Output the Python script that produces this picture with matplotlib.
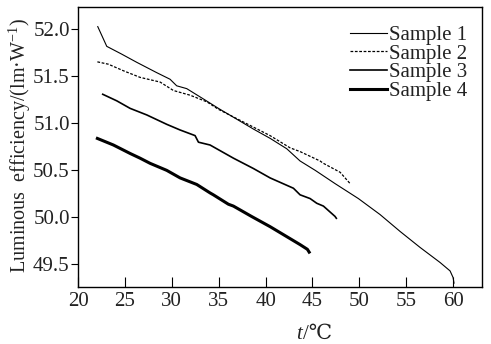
import matplotlib
matplotlib.use('Agg')
import matplotlib.pyplot as plt

# Values
t1 = [22.10, 23.06, 24.6, 26.26, 28.39, 29.81, 30.52, 31.59, 33.37, 34.97, 38.70,
      40.5, 42.26, 43.68, 45.3, 47.4, 49.9, 52.21, 54.35, 56.48, 58.61, 59.68, 60.0, 60.1]
e1 = [52.03, 51.82, 51.74, 51.65, 51.54, 51.47, 51.40, 51.37, 51.26, 51.16, 50.94,
      50.84, 50.73, 50.60, 50.50, 50.36, 50.20, 50.03, 49.85, 49.68, 49.52, 49.43, 49.36, 49.30]

t2 = [22.06, 23.23, 24.84, 26.61, 28.75, 30.17, 31.95, 33.73, 34.97, 37.63,
      40.48, 42.61, 43.68, 45.81, 46.17, 47.95, 49.01]
e2 = [51.655, 51.63, 51.56, 51.49, 51.44, 51.35, 51.30, 51.23, 51.15, 51.015,
      50.87, 50.74, 50.70, 50.60, 50.575, 50.48, 50.36]

t3 = [22.63, 24.13, 25.55, 27.33, 29.46, 30.88, 32.48, 32.84, 34.08, 34.79, 36.57,
      38.70, 40.48, 42.97, 43.68, 44.75, 45.46, 46.17, 47.41, 47.55]
e3 = [51.31, 51.24, 51.16, 51.09, 50.99, 50.93, 50.87, 50.80, 50.77, 50.73, 50.63,
      50.52, 50.42, 50.31, 50.24, 50.20, 50.15, 50.12, 50.01, 49.99]

t4 = [22.06, 23.77, 25.55, 26.61, 27.68, 29.46, 30.88, 32.66, 34.08, 34.43, 36.03,
      36.57, 38.5, 40.5, 43.68, 44.46, 44.65]
e4 = [50.84, 50.77, 50.68, 50.63, 50.575, 50.50, 50.42, 50.35, 50.26, 50.24, 50.14,
      50.12, 50.01, 49.90, 49.71, 49.66, 49.63]

labels = ['Sample 1', 'Sample 2', 'Sample 3', 'Sample 4']
xticks = [20, 25, 30, 35, 40, 45, 50, 55, 60]
yticks = [49.5, 50.0, 50.5, 51.0, 51.5, 52.0]

serif = ['Liberation Serif', 'DejaVu Serif', 'Noto Sans CJK SC']
plt.rcParams['font.family'] = serif
plt.rcParams['mathtext.fontset'] = 'custom'
plt.rcParams['mathtext.rm'] = 'Liberation Serif'
plt.rcParams['mathtext.it'] = 'Liberation Serif:italic'
txt = '#222222'

fig = plt.figure(figsize=(4.91, 3.44), dpi=100)
ax = fig.add_axes([0.159, 0.166, 0.822, 0.814])

ax.plot(t1, e1, color='black', lw=0.8, label=labels[0])
ax.plot(t2, e2, color='black', lw=0.9, linestyle=(0, (2.2, 1.3)), label=labels[1])
ax.plot(t3, e3, color='black', lw=1.2, label=labels[2])
ax.plot(t4, e4, color='black', lw=2.2, label=labels[3])

ax.set_xlim(20, 63.05)
ax.set_ylim(49.26, 52.24)
ax.set_xticks(xticks)
ax.set_yticks(yticks)
ax.set_yticklabels([f'{v:.1f}' for v in yticks])

ax.tick_params(axis='x', direction='in', length=7, width=0.8, labelsize=15,
               labelcolor=txt, pad=4)
ax.tick_params(axis='y', direction='out', length=5, width=0.8, labelsize=15,
               labelcolor=txt, pad=1)
for s in ax.spines.values():
    s.set_linewidth(1.0)

# x label: italic t followed by /℃
ax.text(0.555, -0.135, 't', transform=ax.transAxes, fontsize=15, color=txt,
        style='italic', ha='right', va='top')
ax.text(0.557, -0.135, '/℃', transform=ax.transAxes, fontsize=15, color=txt,
        family=serif, ha='left', va='top')

ax.set_ylabel('Luminous  efficiency/(lm·W$^{-1}$)', fontsize=14.5, color=txt)
ax.yaxis.set_label_coords(-0.112, 0.505)

leg = ax.legend(loc='upper right', bbox_to_anchor=(1.0, 0.985), frameon=False,
                fontsize=15, handlelength=1.75, handletextpad=0.1,
                labelspacing=-0.05, borderaxespad=0.3)
for t in leg.get_texts():
    t.set_color(txt)

fig.savefig('out.png', dpi=100)
